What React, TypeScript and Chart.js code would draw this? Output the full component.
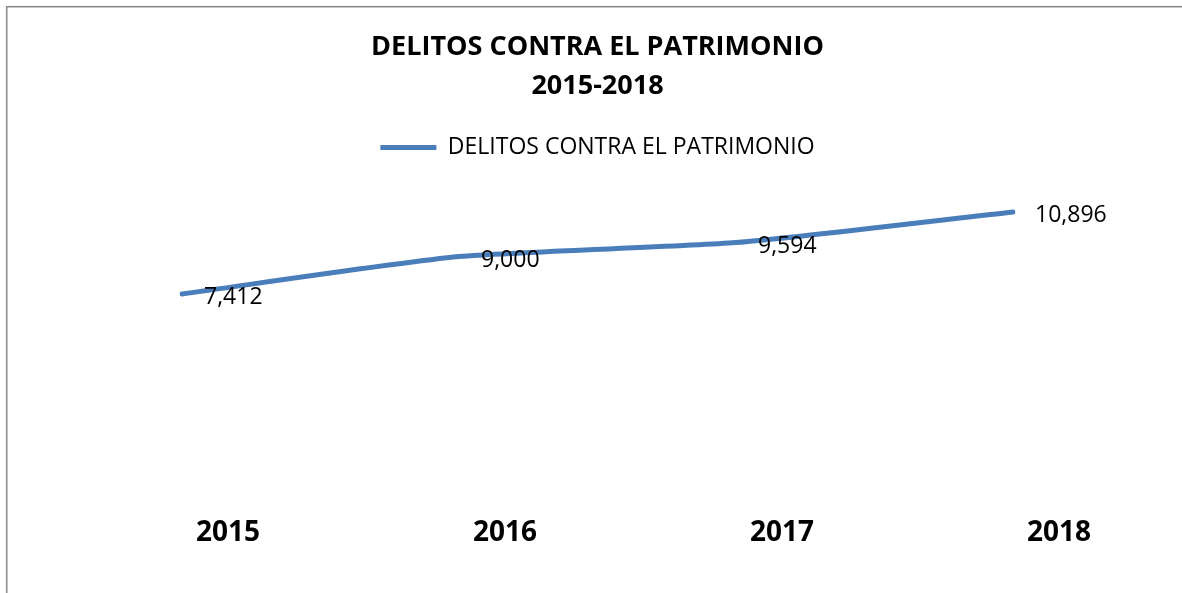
import React, { useEffect, useRef } from "react";
import { Chart, registerables, layouts } from "chart.js";

Chart.register(...registerables);

const categories = ["2015", "2016", "2017", "2018"];
const seriesName = "DELITOS CONTRA EL PATRIMONIO";
const seriesValues = [7412, 9000, 9594, 10896];
const titleLines = ["DELITOS CONTRA EL PATRIMONIO", "2015-2018"];

const FONT = "'Open Sans', 'Noto Sans', sans-serif";

const frame = {
  id: "frame",
  beforeDraw(chart: any) {
    const ctx = chart.ctx;
    ctx.save();
    ctx.fillStyle = "#ffffff";
    ctx.fillRect(0, 0, chart.width, chart.height);
    ctx.strokeStyle = "#8c8c8c";
    ctx.lineWidth = 1.6;
    ctx.strokeRect(6.7, 6.7, chart.width + 50, chart.height + 50);
    ctx.restore();
  },
};

// empty layout box that keeps a gap between the legend and the plot area
const spacer = {
  id: "spacer",
  beforeInit(chart: any) {
    const box: any = {
      options: {},
      position: "top",
      weight: 500,
      fullSize: true,
      top: 0,
      left: 0,
      right: 0,
      bottom: 0,
      width: 0,
      height: 0,
      isHorizontal() {
        return true;
      },
      update(maxWidth: number) {
        this.width = maxWidth;
        this.height = 17;
      },
      draw() {},
    };
    layouts.addBox(chart, box);
  },
};

const valueLabels = {
  id: "valueLabels",
  afterDatasetsDraw(chart: any) {
    const ctx = chart.ctx;
    const meta = chart.getDatasetMeta(0);
    ctx.save();
    ctx.font = `23px ${FONT}`;
    ctx.fillStyle = "#000000";
    ctx.textAlign = "left";
    ctx.textBaseline = "alphabetic";
    meta.data.forEach((pt: any, i: number) => {
      const v = chart.data.datasets[0].data[i] as number;
      ctx.fillText(v.toLocaleString("en-US"), pt.x + 22, pt.y + 10);
    });
    ctx.restore();
  },
};

export default function App() {
  const ref = useRef<HTMLCanvasElement | null>(null);
  useEffect(() => {
    document.body.style.margin = "0";
    if (!ref.current) return;
    const chart = new Chart(ref.current, {
      type: "line",
      data: {
        labels: categories,
        datasets: [
          {
            label: seriesName,
            data: seriesValues,
            borderColor: "#4a7ebb",
            backgroundColor: "#4a7ebb",
            borderWidth: 5,
            borderCapStyle: "round",
            borderJoinStyle: "round",
            pointRadius: 0,
            pointHoverRadius: 0,
            tension: 0.2,
            fill: false,
          },
        ],
      },
      options: {
        animation: false,
        responsive: false,
        layout: { padding: { left: 182, right: 169, top: 0, bottom: -4 } },
        plugins: {
          title: {
            display: true,
            text: titleLines,
            color: "#000000",
            font: { family: FONT, size: 27, weight: "bold", lineHeight: 1.444 },
            padding: { top: 27.5, bottom: 20.5 },
          },
          legend: {
            display: true,
            labels: {
              usePointStyle: true,
              pointStyle: "line",
              pointStyleWidth: 56,
              boxWidth: 56,
              color: "#000000",
              font: { family: FONT, size: 23 },
              padding: 10,
            },
          },
          tooltip: { enabled: false },
        },
        scales: {
          x: {
            offset: false,
            grid: { display: false, drawTicks: false },
            border: { display: false },
            ticks: {
              color: "#000000",
              font: { family: FONT, size: 28, weight: "bold" },
              padding: 47.5,
              labelOffset: 46,
              maxRotation: 0,
            },
          },
          y: {
            display: false,
            min: 0,
            max: 12000,
          },
        },
      },
      plugins: [frame, spacer, valueLabels],
    });
    return () => chart.destroy();
  }, []);
  return (
    <div style={{ width: 1182, height: 593, overflow: "hidden" }}>
      <canvas ref={ref} width={1182} height={593} />
    </div>
  );
}
